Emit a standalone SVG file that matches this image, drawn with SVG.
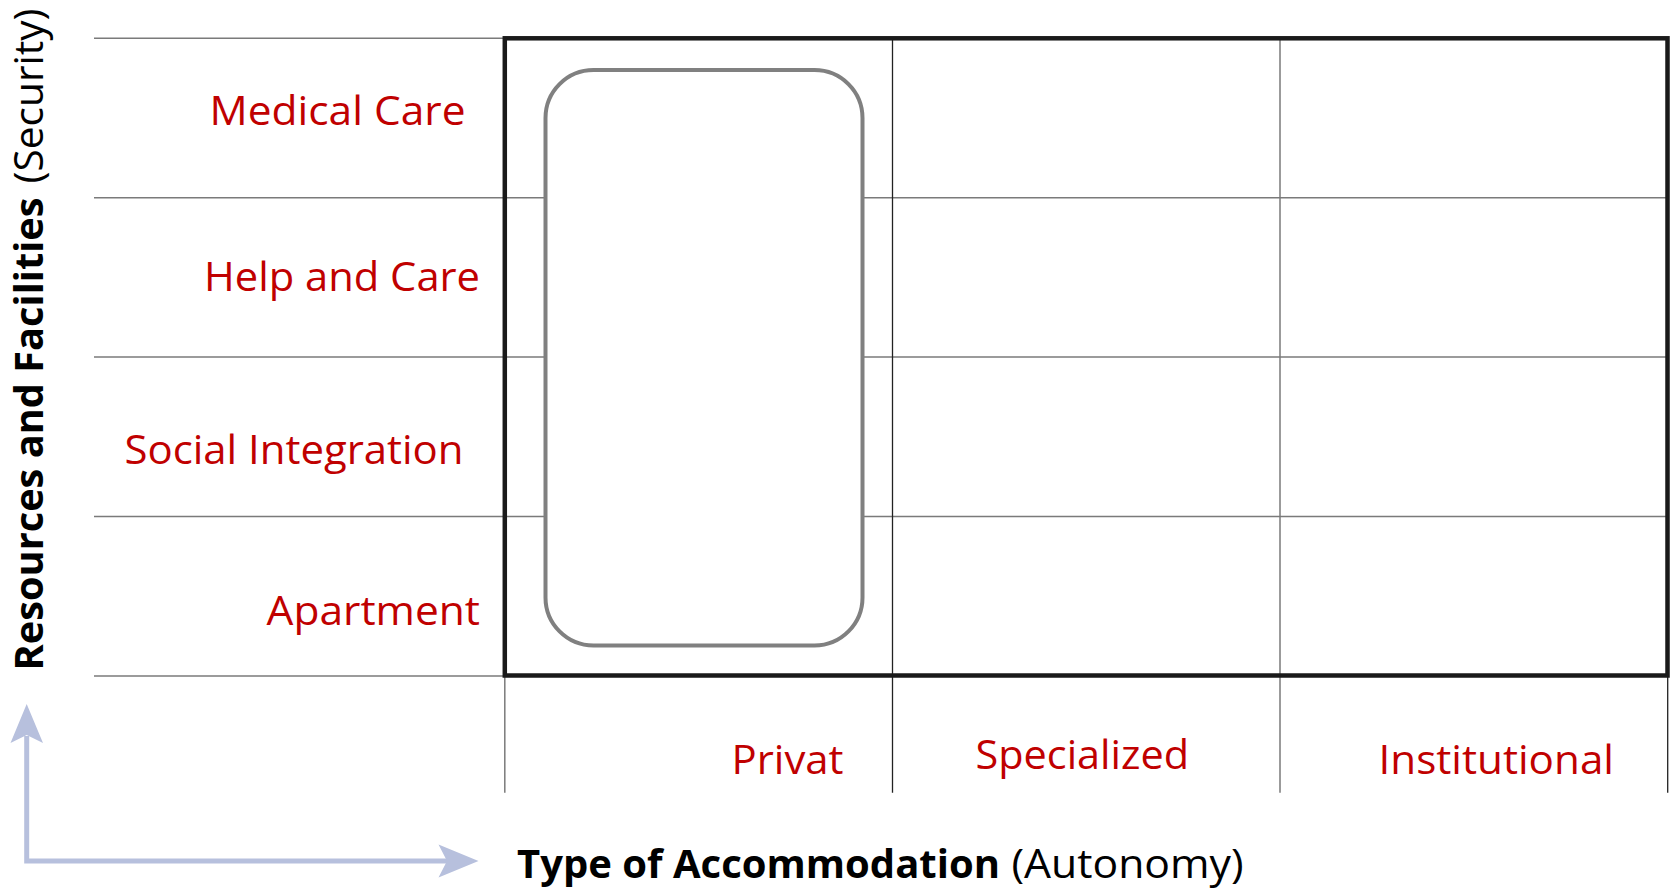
<svg xmlns="http://www.w3.org/2000/svg" width="1671" height="889" viewBox="0 0 1671 889">
  <style>
    .lbl { font-family: "Open Sans", "Liberation Sans", sans-serif; font-size: 40px; fill: #C00000; }
    .ttl { font-family: "Open Sans", "Liberation Sans", sans-serif; font-size: 40px; fill: #000000; }
    .b { font-weight: bold; }
    .grid { stroke: #7a7a7a; stroke-width: 1.5; fill: none; }
    .colk { stroke: #222222; stroke-width: 1.3; fill: none; }
    .frame { stroke: #1a1a1a; stroke-width: 4.5; fill: none; }
    .axis { stroke: #B7C0DD; stroke-width: 5; fill: none; stroke-linejoin: miter; }
    .head { fill: #B7C0DD; stroke: none; }
  </style>
  <rect x="0" y="0" width="1671" height="889" fill="#ffffff"/>

  <g id="grid">
    <line class="grid" x1="94" y1="38.3" x2="1667.7" y2="38.3"/>
    <line class="grid" x1="94" y1="197.7" x2="1667.7" y2="197.7"/>
    <line class="grid" x1="94" y1="357.1" x2="1667.7" y2="357.1"/>
    <line class="grid" x1="94" y1="516.5" x2="1667.7" y2="516.5"/>
    <line class="grid" x1="94" y1="676" x2="1667.7" y2="676"/>
    <line class="grid" x1="504.8" y1="38.3" x2="504.8" y2="792.7"/>
    <line class="colk" x1="892.5" y1="38.3" x2="892.5" y2="792.7"/>
    <line class="grid" x1="1280" y1="38.3" x2="1280" y2="792.7"/>
    <line class="colk" x1="1667.7" y1="676" x2="1667.7" y2="792.7"/>
  </g>

  <g id="frame">
    <rect class="frame" x="504.8" y="38.3" width="1162.7" height="637.2"/>
  </g>

  <g id="privat-highlight">
    <rect x="545.5" y="70" width="317" height="575.5" rx="48" ry="48" fill="#ffffff" stroke="#808080" stroke-width="4"/>
  </g>

  <g id="row-medical-care">
    <text class="lbl" x="209.5" y="124.5" textLength="256" lengthAdjust="spacingAndGlyphs">Medical Care</text>
  </g>
  <g id="row-help-and-care">
    <text class="lbl" x="204" y="290.7" textLength="276" lengthAdjust="spacingAndGlyphs">Help and Care</text>
  </g>
  <g id="row-social-integration">
    <text class="lbl" x="124.5" y="463.5" textLength="339" lengthAdjust="spacingAndGlyphs">Social Integration</text>
  </g>
  <g id="row-apartment">
    <text class="lbl" x="266.5" y="625" textLength="213.5" lengthAdjust="spacingAndGlyphs">Apartment</text>
  </g>

  <g id="col-privat">
    <text class="lbl" x="731.5" y="774.3" textLength="112" lengthAdjust="spacingAndGlyphs">Privat</text>
  </g>
  <g id="col-specialized">
    <text class="lbl" x="975.5" y="768.5" textLength="213.5" lengthAdjust="spacingAndGlyphs">Specialized</text>
  </g>
  <g id="col-institutional">
    <text class="lbl" x="1378.5" y="774.3" textLength="235.5" lengthAdjust="spacingAndGlyphs">Institutional</text>
  </g>

  <g id="axis-title-x">
    <text class="ttl" y="878.3"><tspan class="b" x="517" textLength="483" lengthAdjust="spacingAndGlyphs">Type of Accommodation</tspan> <tspan x="1011.5" textLength="232" lengthAdjust="spacingAndGlyphs">(Autonomy)</tspan></text>
  </g>

  <g id="axis-title-y" transform="translate(43,669) rotate(-90)">
    <text class="ttl" y="0"><tspan class="b" x="-1.5" textLength="473" lengthAdjust="spacingAndGlyphs">Resources and Facilities</tspan> <tspan x="485.5" textLength="175" lengthAdjust="spacingAndGlyphs">(Security)</tspan></text>
  </g>

  <g id="connectors">
    <polyline class="axis" points="26.7,736 26.7,861 447,861"/>
    <polygon class="head" points="26.7,704 43,743 26.7,735 10.5,743"/>
    <polygon class="head" points="478.5,861 438.5,877.5 447,861 438.5,844.5"/>
  </g>
</svg>
